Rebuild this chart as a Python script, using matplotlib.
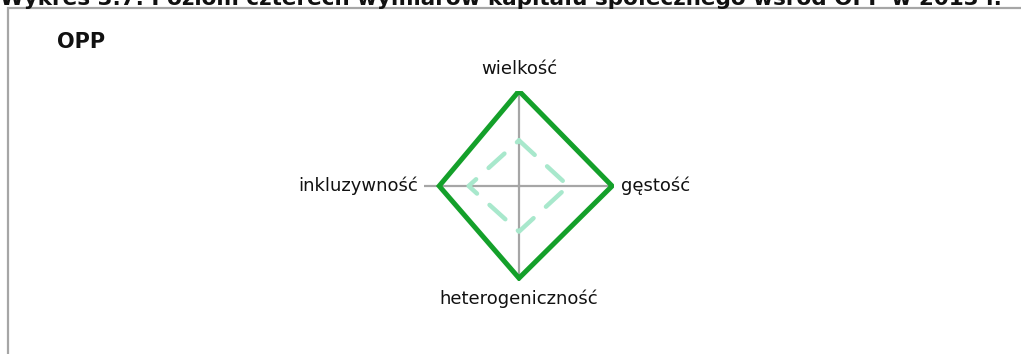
import numpy as np
import matplotlib
matplotlib.use("Agg")
import matplotlib.pyplot as plt
from matplotlib.patches import Rectangle

title = "Wykres 3.7. Poziom czterech wymiarów kapitału społecznego wśród OPP w 2013 r."
panel_title = "OPP"
categories = ["wielkość", "gęstość", "heterogeniczność", "inkluzywność"]
series_main = [1.00, 0.98, 0.97, 0.84]
series_ref = [0.48, 0.52, 0.48, 0.53]

W, H = 1021, 354
fig = plt.figure(figsize=(W / 100, H / 100), dpi=100)
fig.patch.set_facecolor("white")

# frame
fig.patches.append(Rectangle((8 / W, -0.1), 1.2, (H - 8) / H + 0.1,
                             transform=fig.transFigure, fill=False,
                             edgecolor="#a6a6a6", lw=1.6, zorder=0))

fig.text(0.0, 1 - 5 / H, title, fontsize=15.5, fontweight="bold",
         ha="left", va="baseline", color="#111111")
fig.text(57 / W, 1 - 42 / H, panel_title, fontsize=15, fontweight="bold",
         ha="left", va="center", color="#111111")

cx, cy, R = 519, 186, 95
ax = fig.add_axes([(cx - R) / W, (H - cy - R) / H, 2 * R / W, 2 * R / H],
                  projection="polar")
ax.set_theta_zero_location("N")
ax.set_theta_direction(-1)
theta = np.arange(len(categories)) * 2 * np.pi / len(categories)
ax.set_ylim(0, 1)
ax.set_yticks([])
ax.set_xticks(theta)
ax.set_xticklabels([])
ax.xaxis.grid(True, color="#a6a6a6", lw=1.6)
ax.yaxis.grid(False)
ax.spines["polar"].set_visible(False)
ax.patch.set_alpha(0)

t_closed = np.append(theta, theta[0])
ax.plot(t_closed, series_ref + series_ref[:1], color="#a8e8cc", lw=3.2,
        dashes=(4.8, 3.8), dash_capstyle="round", zorder=3)
ax.plot(t_closed, series_main + series_main[:1], color="#14a02a", lw=3.6,
        solid_joinstyle="miter", zorder=4)

offsets = [(0, 9, "center", "bottom"), (5, 0, "left", "center"),
           (0, -6, "center", "top"), (-4, 0, "right", "center")]
for t, lab, (dx, dy, ha, va) in zip(theta, categories, offsets):
    ax.annotate(lab, xy=(t, 1.0), xytext=(dx, dy),
                textcoords="offset points", ha=ha, va=va,
                fontsize=13, color="#111111", annotation_clip=False)

fig.savefig("out.png", dpi=100, facecolor="white")
